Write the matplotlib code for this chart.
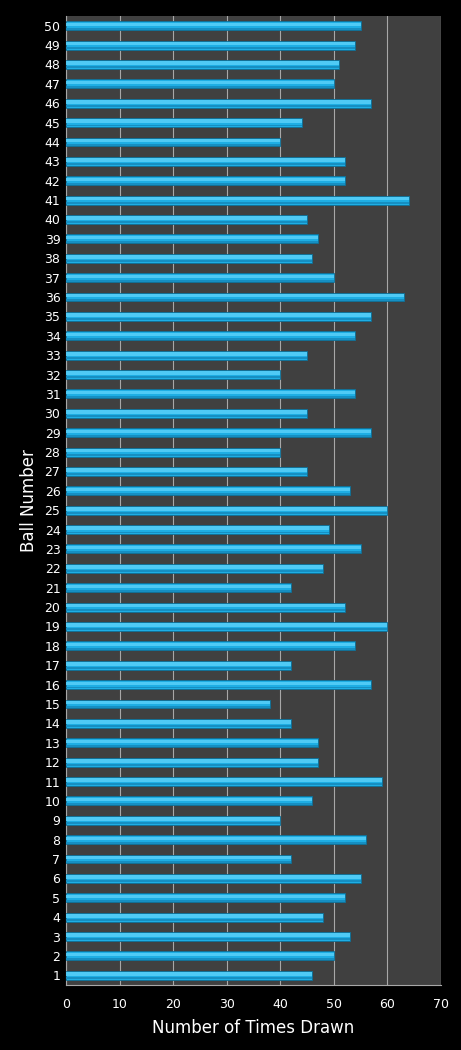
import matplotlib
matplotlib.use("Agg")
import matplotlib.pyplot as plt

# ball numbers 1..50 and how often each was drawn
balls = list(range(1, 51))
drawn = [46, 50, 53, 48, 52, 55, 42, 56, 40, 46,
         59, 47, 47, 42, 38, 57, 42, 54, 60, 52,
         42, 48, 55, 49, 60, 53, 45, 40, 57, 45,
         54, 40, 45, 54, 57, 63, 50, 46, 47, 45,
         64, 52, 52, 40, 44, 57, 50, 51, 54, 55]
x_ticks = [0, 10, 20, 30, 40, 50, 60, 70]

fig = plt.figure(figsize=(4.61, 10.5), dpi=100, facecolor="black")
ax = fig.add_axes([66 / 461, 1 - 985 / 1050, 375 / 461, 969 / 1050])
ax.set_facecolor("#404040")

# main bar plus two thinner strips to fake the bevel shading
ax.barh(balls, drawn, height=0.46, color="#1eaee4", edgecolor="#0e6f96",
        linewidth=0.6, zorder=3)
ax.barh([b + 0.07 for b in balls], drawn, height=0.18, color="#4fcaf5",
        linewidth=0, zorder=4)
ax.barh([b - 0.15 for b in balls], drawn, height=0.1, color="#168fc2",
        linewidth=0, zorder=4)

ax.set_xlim(0, 70)
ax.set_ylim(0.5, 50.5)
ax.set_xticks(x_ticks)
ax.set_yticks(balls)
ax.grid(True, axis="x", color="#a8a8a8", linewidth=0.8, zorder=1)
ax.tick_params(colors="white", labelsize=9, length=0, pad=4)
for lab in ax.get_xticklabels():
    lab.set_color("white")
for lab in ax.get_yticklabels():
    lab.set_color("white")
ax.tick_params(axis="x", pad=9)

for side in ["top", "right"]:
    ax.spines[side].set_visible(False)
for side in ["left", "bottom"]:
    ax.spines[side].set_color("#a8a8a8")
    ax.spines[side].set_linewidth(0.8)

ax.set_xlabel("Number of Times Drawn", color="white", fontsize=12, labelpad=6)
ax.set_ylabel("Ball Number", color="white", fontsize=12, labelpad=5)

fig.savefig("out.png", dpi=100, facecolor="black")
